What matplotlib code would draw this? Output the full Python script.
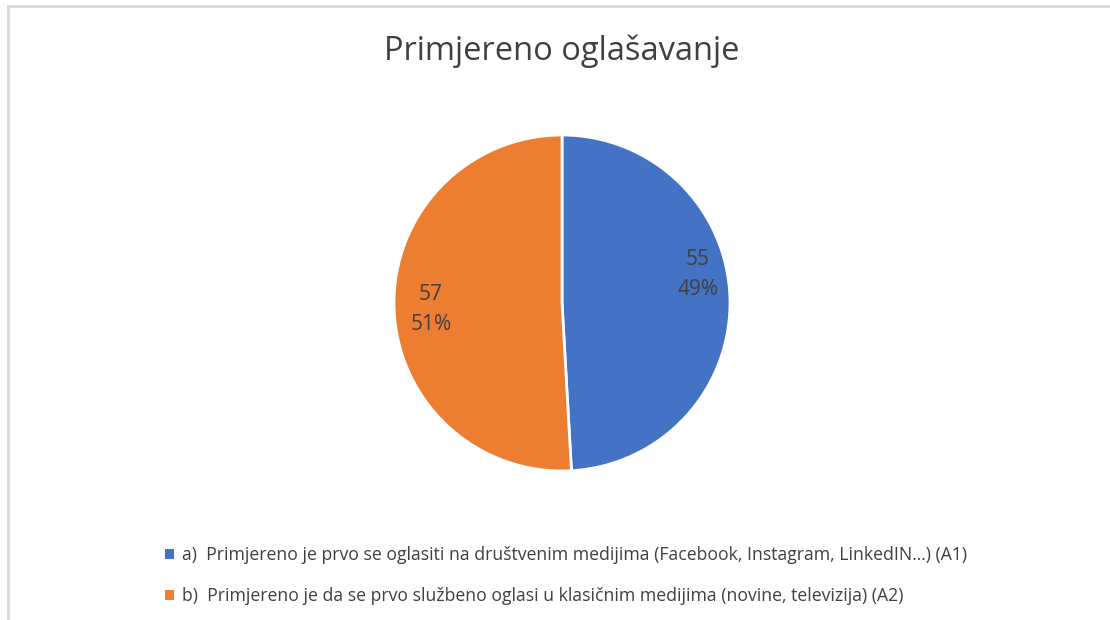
import matplotlib.pyplot as plt
from matplotlib.patches import Patch
from matplotlib.lines import Line2D

plt.rcParams['font.family'] = ['Open Sans', 'DejaVu Sans']

labels = [
    "a)  Primjereno je prvo se oglasiti na društvenim medijima (Facebook, Instagram, LinkedIN...) (A1)",
    "b)  Primjereno je da se prvo službeno oglasi u klasičnim medijima (novine, televizija) (A2)",
]
values = [55, 57]
colors = ["#4472c4", "#ed7d31"]
title = "Primjereno oglašavanje"

W, H = 1110, 620
fig = plt.figure(figsize=(W / 100, H / 100), dpi=100)

# chart frame (only top and left edges are visible in the crop)
fig.add_artist(Line2D([8 / W, 8 / W], [0, 1 - 6 / H], color="#d9d9d9", lw=2))
fig.add_artist(Line2D([8 / W, 1], [1 - 6 / H, 1 - 6 / H], color="#d9d9d9", lw=2))

cx, cy, r = 562, 303, 168
ax = fig.add_axes([(cx - r) / W, (H - cy - r) / H, 2 * r / W, 2 * r / H])
wedges, _ = ax.pie(values, colors=colors, startangle=90, counterclock=False,
                   radius=1, wedgeprops=dict(edgecolor="white", linewidth=2))
ax.set_xlim(-1, 1)
ax.set_ylim(-1, 1)
ax.set_aspect("equal")
ax.axis("off")

total = sum(values)
label_pos = [(0.81, 0.17), (-0.78, -0.04)]
for v, (x, y) in zip(values, label_pos):
    ax.text(x, y, f"{v}\n{v / total:.0%}", ha="center", va="center",
            fontsize=15, color="#404040", linespacing=1.55)

fig.text(cx / W, 1 - 51 / H, title, ha="center", va="center",
         fontsize=23.5, color="#404040")

handles = [Patch(facecolor=c, edgecolor="none") for c in colors]
fig.legend(handles, labels, loc="upper left", bbox_to_anchor=(149 / W, 1 - 530 / H),
           frameon=False, fontsize=12.7, handlelength=0.5, handleheight=0.5,
           handletextpad=0.45, labelspacing=1.32, labelcolor="#404040")

fig.savefig("out.png", dpi=100)
